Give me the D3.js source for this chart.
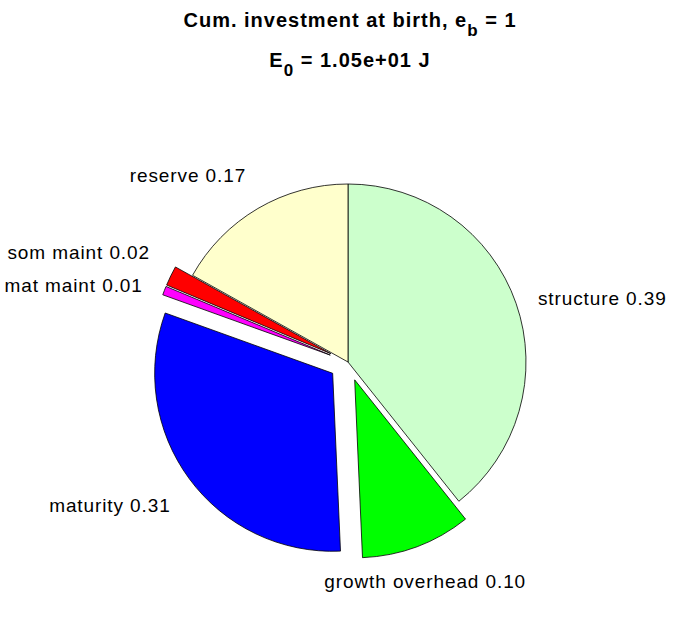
<!DOCTYPE html>
<html><head><meta charset="utf-8">
<script src="https://cdn.jsdelivr.net/npm/d3@7"></script>
<style>body{margin:0;background:#fff}</style>
</head><body>
<svg id="c" width="696" height="618"></svg>
<script>
const categories = ["structure", "growth overhead", "maturity", "mat maint", "som maint", "reserve"];
const values = [0.393, 0.100, 0.312, 0.008, 0.018, 0.169];
const exploded = [false, true, true, true, true, false];
const colors = ["#ccffcc", "#00ff00", "#0000ff", "#ff00ff", "#ff0000", "#ffffcc"];
const titleLine1 = ["Cum. investment at birth, e", "b", " = 1"];
const titleLine2 = ["E", "0", " = 1.05e+01 J"];

const svg = d3.select("#c");
const cx = 348, cy = 362, R = 178;
const explodeDist = 0.107 * R;
const labelR = 1.13 * R;

const data = categories.map((c, i) => ({cat: c, v: values[i], ex: exploded[i], col: colors[i]}));
const pie = d3.pie().value(d => d.v).sort(null).startAngle(0).endAngle(2 * Math.PI);
const arc = d3.arc().innerRadius(0).outerRadius(R);
const arcs = pie(data);

const g = svg.append("g").attr("transform", `translate(${cx},${cy})`);

arcs.forEach(a => {
  const mid = (a.startAngle + a.endAngle) / 2;
  const s = Math.sin(mid), c = -Math.cos(mid);
  const off = a.data.ex ? explodeDist : 0;
  a.ox = off * s; a.oy = off * c;
  a.mid = mid;
});

g.selectAll("path.slice").data(arcs).join("path")
  .attr("class", "slice")
  .attr("d", arc)
  .attr("transform", d => `translate(${d.ox},${d.oy})`)
  .attr("fill", d => d.data.col)
  .attr("stroke", "#000")
  .attr("stroke-width", 0.8)
  .attr("stroke-linejoin", "round");

g.selectAll("text.lbl").data(arcs).join("text")
  .attr("class", "lbl")
  .attr("x", d => d.ox + labelR * Math.sin(d.mid))
  .attr("y", d => d.oy - labelR * Math.cos(d.mid))
  .attr("text-anchor", d => {
    const s = Math.sin(d.mid);
    return Math.abs(s) < 0.5 ? "middle" : (s > 0 ? "start" : "end");
  })
  .attr("dy", d => {
    const c = Math.cos(d.mid);
    return c > 0.4 ? "-0.35em" : (c < -0.5 ? "1.05em" : "0.5em");
  })
  .attr("font-family", "Liberation Sans, Arial, sans-serif")
  .attr("font-size", 19)
  .attr("letter-spacing", 0.9)
  .attr("fill", "#000")
  .text(d => `${d.data.cat} ${d.data.v.toFixed(2)}`);

function title(parts, y) {
  const t = svg.append("text")
    .attr("x", cx + 2).attr("y", y)
    .attr("text-anchor", "middle")
    .attr("font-family", "Liberation Sans, Arial, sans-serif")
    .attr("font-weight", "bold")
    .attr("font-size", 20)
    .attr("letter-spacing", 1.0)
    .attr("fill", "#000");
  t.append("tspan").text(parts[0]);
  t.append("tspan").attr("dy", 9).attr("font-size", 17).text(parts[1]);
  t.append("tspan").attr("dy", -9).text(parts[2]);
}
title(titleLine1, 27);
title(titleLine2, 67);
</script>
</body></html>
